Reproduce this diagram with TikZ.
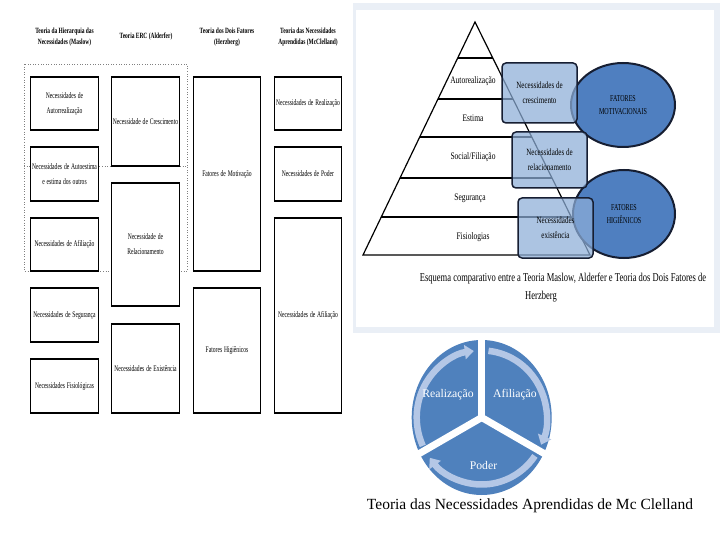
\documentclass[tikz,border=0pt]{standalone}
\usepackage{fontspec}
\usepackage{graphicx}
\setmainfont{Liberation Serif}
\newcommand{\tq}[1]{\scalebox{0.65}[1]{#1}}
\newcommand{\hq}[1]{\scalebox{0.68}[1]{#1}}
\newcommand{\pq}[1]{\scalebox{0.75}[1]{#1}}
\newcommand{\bq}[1]{\scalebox{0.74}[1]{#1}}
\newcommand{\eq}[1]{\scalebox{0.67}[1]{#1}}
\newcommand{\cq}[1]{\scalebox{0.71}[1]{#1}}
\usetikzlibrary{calc,arrows.meta,shapes.geometric}
\definecolor{secblue}{RGB}{79,129,189}
\definecolor{arrowc}{RGB}{180,199,230}
\definecolor{boxblue}{RGB}{141,174,216}
\definecolor{ellblue}{RGB}{79,127,192}
\definecolor{navy}{RGB}{22,30,50}
\definecolor{framec}{RGB}{234,239,246}
\tikzset{
  tbox/.style={draw=black, line width=0.7pt, fill=white, inner sep=0.3pt, align=center,
    text width=67pt, minimum width=67.6pt, font=\fontsize{8.6}{15}\selectfont},
  thead/.style={align=center, font=\bfseries\fontsize{8}{11}\selectfont},
  tedge/.style={line width=1.8pt},
  dotl/.style={draw=gray, dotted, line width=0.6pt},
  pband/.style={line width=2.8pt},
  plabel/.style={font=\fontsize{10}{12}\selectfont},
  pbox/.style={draw=navy, line width=1.5pt, rounded corners=4pt, fill=boxblue, fill opacity=0.72,
    text opacity=1, align=center, font=\fontsize{9.5}{15}\selectfont},
  ell/.style={ellipse, draw=navy, line width=2pt, fill=ellblue, align=center, inner sep=0pt,
    font=\fontsize{9}{13}\selectfont},
  capt/.style={font=\fontsize{12}{14}\selectfont},
  arrowband/.style={draw=arrowc, line width=6.5pt, -{Triangle[width=14pt,length=9pt]}},
  ctext/.style={text=white, font=\fontsize{11.7}{14}\selectfont}
}
\begin{document}
\begin{tikzpicture}[x=1pt, y=-1pt]
\useasboundingbox (0,0) rectangle (720,540);
\fill[white] (0,0) rectangle (720,540);

% ---------- panel frame ----------
\fill[framec] (353,3) rectangle (720,333);
\fill[white] (356,10) rectangle (714,327);

% ---------- left table ----------
\draw[dotl] (24,64) rectangle (187,271);
\draw[dotl] (24,166) -- (187,166);

\node[thead] (h1) at (64.5,37.5) {\hq{Teoria da Hierarquia das}\\\hq{Necessidades (Maslow)}};
\node[thead] (h2) at (146,36.5) {\hq{Teoria ERC (Alderfer)}};
\node[thead] (h3) at (227,37.5) {\hq{Teoria dos Dois Fatores}\\\hq{(Herzberg)}};
\node[thead] (h4) at (308,37.5) {\hq{Teoria das Necessidades}\\\hq{Aprendidas (McClelland)}};

\node[tbox, minimum height=53pt] (c1a) at (64.5,103.5) {\tq{Necessidades de}\\\tq{Autorrealização}};
\node[tbox, minimum height=54pt] (c1b) at (64.5,174) {\tq{Necessidades de Autoestima}\\\tq{e estima dos outros}};
\node[tbox, minimum height=53pt] (c1c) at (64.5,244.5) {\tq{Necessidades de Afiliação}};
\node[tbox, minimum height=54pt] (c1d) at (64.5,315) {\tq{Necessidades de Segurança}};
\node[tbox, minimum height=54pt] (c1e) at (64.5,386) {\tq{Necessidades Fisiológicas}};

\node[tbox, minimum height=89pt] (c2a) at (145.5,121.5) {\tq{Necessidade de Crescimento}};
\node[tbox, minimum height=123pt] (c2b) at (145.5,244.5) {\tq{Necessidade de}\\\tq{Relacionamento}};
\node[tbox, minimum height=89pt] (c2c) at (145.5,368.5) {\tq{Necessidades de Existência}};

\node[tbox, minimum height=194pt] (c3a) at (227,174) {\tq{Fatores de Motivação}};
\node[tbox, minimum height=125pt] (c3b) at (227,350.5) {\tq{Fatores Higiênicos}};

\node[tbox, minimum height=53pt] (c4a) at (308,103.5) {\tq{Necessidades de Realização}};
\node[tbox, minimum height=54pt] (c4b) at (308,174) {\tq{Necessidades de Poder}};
\node[tbox, minimum height=195pt] (c4c) at (308,315.5) {\tq{Necessidades de Afiliação}};

\foreach \n in {c1a,c1b,c1c,c1d,c1e,c2a,c2b,c2c,c3a,c3b,c4a,c4b,c4c}{
  \draw[tedge] (\n.north west) -- (\n.north east);
  \draw[tedge] (\n.south west) -- (\n.south east);
}

% ---------- pyramid ----------
\coordinate (apex) at (475,22);
\coordinate (bl) at (363,255);
\coordinate (br) at (590,255);
\draw[line width=1.2pt, line join=miter] (apex) -- (bl) -- (br) -- cycle;
\foreach \t in {0.1545,0.3305,0.4936,0.6695,0.8369}{
  \draw[pband] ($(apex)!\t!(bl)$) -- ($(apex)!\t!(br)$);
}
\node[plabel] (p1) at (473,81) {\pq{Autorealização}};
\node[plabel] (p2) at (473,118) {\pq{Estima}};
\node[plabel] (p3) at (473,157) {\pq{Social/Filiação}};
\node[plabel] (p4) at (470,198) {\pq{Segurança}};
\node[plabel] (p5) at (473,237) {\pq{Fisiologias}};

\node[ell, minimum width=104pt, minimum height=84pt] (e1) at (623,105) {\eq{FATORES}\\\eq{MOTIVACIONAIS}};
\node[ell, minimum width=102pt, minimum height=88pt] (e2) at (624,214) {\eq{FATORES}\\\eq{HIGIÊNICOS}};

\node[pbox, minimum width=75pt, minimum height=60pt] (b1) at (539.5,93) {\bq{Necessidades de}\\\bq{crescimento}};
\node[pbox, minimum width=75pt, minimum height=56pt] (b2) at (549.5,160) {\bq{Necessidades de}\\\bq{relacionamento}};
\node[pbox, minimum width=75pt, minimum height=60pt] (b3) at (555.5,228) {\bq{Necessidades}\\\bq{existência}};

\node[capt] (cap1) at (563,279) {\cq{Esquema comparativo entre a Teoria Maslow, Alderfer e Teoria dos Dois Fatores de}};
\node[capt] (cap2) at (541,297) {\cq{Herzberg}};

% ---------- McClelland cycle ----------
\begin{scope}[shift={(481.7pt,-417.5pt)}, y=1pt]
  \fill[secblue] (0,0) ellipse[x radius=70, y radius=77.5];
  \foreach \a in {90,210,330}{
    \draw[white, line width=7pt] (0,0) -- ({80*cos(\a)},{80*sin(\a)});
  }
  \draw[arrowband] ({65*cos(205)},{67*sin(205)}) arc[start angle=205, end angle=97, x radius=65, y radius=67];
  \draw[arrowband] ({65*cos(84)},{67*sin(84)}) arc[start angle=84, end angle=-24, x radius=65, y radius=67];
  \draw[arrowband] ({65*cos(-35)},{67*sin(-35)}) arc[start angle=-35, end angle=-143, x radius=65, y radius=67];
\end{scope}
\node[ctext] (r1) at (448,395) {Realização};
\node[ctext] (r2) at (515,395) {Afiliação};
\node[ctext] (r3) at (483.5,465) {Poder};

\node[font=\fontsize{15.5}{18}\selectfont] (cap3) at (530,506) {Teoria das Necessidades Aprendidas de Mc Clelland};
\end{tikzpicture}
\end{document}
